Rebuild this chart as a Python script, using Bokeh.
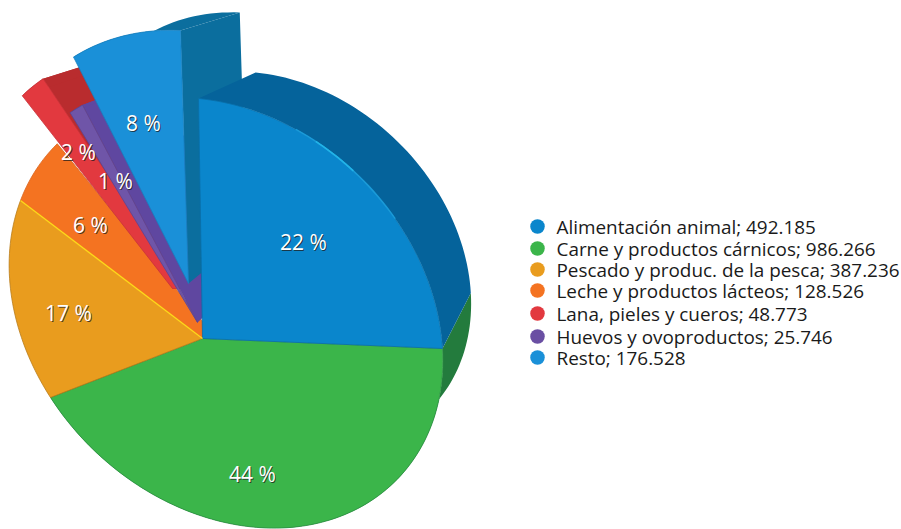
import numpy as np
from bokeh.plotting import figure
from bokeh.core.properties import value
from bokeh.embed import file_html
from bokeh.resources import INLINE

# ---- data
categories = ["Alimentación animal", "Carne y productos cárnicos", "Pescado y produc. de la pesca",
              "Leche y productos lácteos", "Lana, pieles y cueros", "Huevos y ovoproductos", "Resto"]
values = [492185, 986266, 387236, 128526, 48773, 25746, 176528]
value_labels = ["492.185", "986.266", "387.236", "128.526", "48.773", "25.746", "176.528"]

# ---- styles
face_colors = ["#0A86CC", "#3BB54A", "#E99C1E", "#F47321", "#E2393F", "#6F55A8", "#1A90D8"]
wall_colors = ["#05639B", "#237B3D", "#B5761A", "#B9541A", "#B92C2E", "#5F47A0", "#0B6E9E"]
edge_colors = ["#0A6FA8", "#2C8F42", "#B97C1C", "#D9651E", "#C8333A", "#5C4592", "#1780C0"]
legend_colors = ["#0A86CC", "#3BB54A", "#E99C1E", "#F47321", "#E2393F", "#6A4FA3", "#1A90D8"]

# ---- layout (page pixels)
CENTER = np.array([202.0, 338.0])
VANISH = np.array([682.0, -122.0])
DEPTH = 0.118
anchors = np.array([[198.0, 98.0], [442.0, 348.0], [50.0, 397.0], [20.0, 200.0]])
# explode offsets per slice: tip, start of rim, end of rim
explode = {4: ((-30, -50), (-35, -48), (-35, -48)),
           5: ((-5, -16), (-8, -14), (-8, -14)),
           6: ((-14, -55), (-17, -62), (-18, -68))}
# these faces reach slightly under their neighbours at the tip
seam_fill = {3: (14, 0), 4: (12, 0)}
label_x = [303, 252, 68, 90, 78, 115, 143]
label_y = [241, 473, 312, 224, 151, 180, 122]
legend_y = [226, 248, 269, 290, 313, 336, 357]
legend_dot_x, legend_text_x = 537, 556

total = sum(values)
cum = np.concatenate([[0.0], np.cumsum(values)]) / total * 2 * np.pi


def circ(t):
    return np.array([np.sin(t), np.cos(t)])


def homography(src, dst):
    A, b = [], []
    for (x, y), (u, v) in zip(src, dst):
        A.append([x, y, 1, 0, 0, 0, -u * x, -u * y]); b.append(u)
        A.append([0, 0, 0, x, y, 1, -v * x, -v * y]); b.append(v)
    h = np.linalg.solve(np.array(A), np.array(b))
    return np.append(h, 1).reshape(3, 3)


H = homography([circ(cum[i]) for i in range(4)], anchors)


def rim(t):
    x, y = circ(t)
    q = H @ np.array([x, y, 1.0])
    return q[:2] / q[2]


def back(pt):
    return pt + DEPTH * (VANISH - pt)


def slice_points(i):
    n = max(int((cum[i + 1] - cum[i]) / np.radians(1.5)), 2)
    tip_off, off_a, off_b = explode.get(i, ((0, 0), (0, 0), (0, 0)))
    ts = np.linspace(0, 1, n + 1)
    arc = [rim(cum[i] + f * (cum[i + 1] - cum[i])) + (1 - f) * np.array(off_a) + f * np.array(off_b) for f in ts]
    return CENTER + np.array(tip_off), arc


p = figure(width=901, height=529, x_range=(0, 901), y_range=(529, 0),
           output_backend="svg", toolbar_location=None, min_border=0)
p.axis.visible = False
p.grid.visible = False
p.outline_line_color = None

draw_order = [3, 4, 5, 6, 1, 2, 0]
for i in draw_order:
    tip, arc = slice_points(i)
    if i in explode:
        end = arc[-1]
        side = [tip, end, back(end), back(tip)]
        p.patch([q[0] for q in side], [q[1] for q in side], fill_color=wall_colors[i], line_color=None)
    if i not in (2, 3):
        band = arc + [back(q) for q in reversed(arc)]
        p.patch([q[0] for q in band], [q[1] for q in band], fill_color=wall_colors[i], line_color=None)
    ring = [tip] + arc
    if i in seam_fill:
        ring = ring + [tip + np.array(seam_fill[i])]
    p.patch([q[0] for q in ring], [q[1] for q in ring], fill_color=face_colors[i],
            line_color=edge_colors[i], line_width=0.8)

# yellow seam between Pescado and Leche
seam = rim(cum[3])
p.line([seam[0], CENTER[0]], [seam[1], CENTER[1]], line_color="#FFD81A", line_width=1.4)

# light reflex along the rim of the first slice
for a, b, color, w in [(0.28, 0.62, "#1A9AD8", 1.6), (0.34, 0.46, "#22B4E8", 1.6)]:
    glow = [rim(t) for t in np.linspace(cum[1] * a, cum[1] * b, 20)]
    p.line([q[0] for q in glow], [q[1] for q in glow], line_color=color, line_width=w)

# percent labels with a shadow
pct = [f"{round(v / total * 100)} %" for v in values]
p.text([x + 1 for x in label_x], [y + 1.5 for y in label_y], text=pct, text_color="#1E1E1E", text_alpha=0.75,
       text_font=value("Open Sans"), text_font_size="21px", text_align="center", text_baseline="middle")
p.text(label_x, label_y, text=pct, text_color="#FFFFFF",
       text_font=value("Open Sans"), text_font_size="21px", text_align="center", text_baseline="middle")

# legend
p.scatter([legend_dot_x] * 7, legend_y, size=14.5, marker="circle", fill_color=legend_colors, line_color=None)
p.text([legend_text_x] * 7, legend_y,
       text=[f"{c}; {v}" for c, v in zip(categories, value_labels)], text_color="#1A1A1A",
       text_font=value("Open Sans"), text_font_size="18.9px", text_align="left", text_baseline="middle")

open("out.html", "w").write(file_html(p, INLINE))
